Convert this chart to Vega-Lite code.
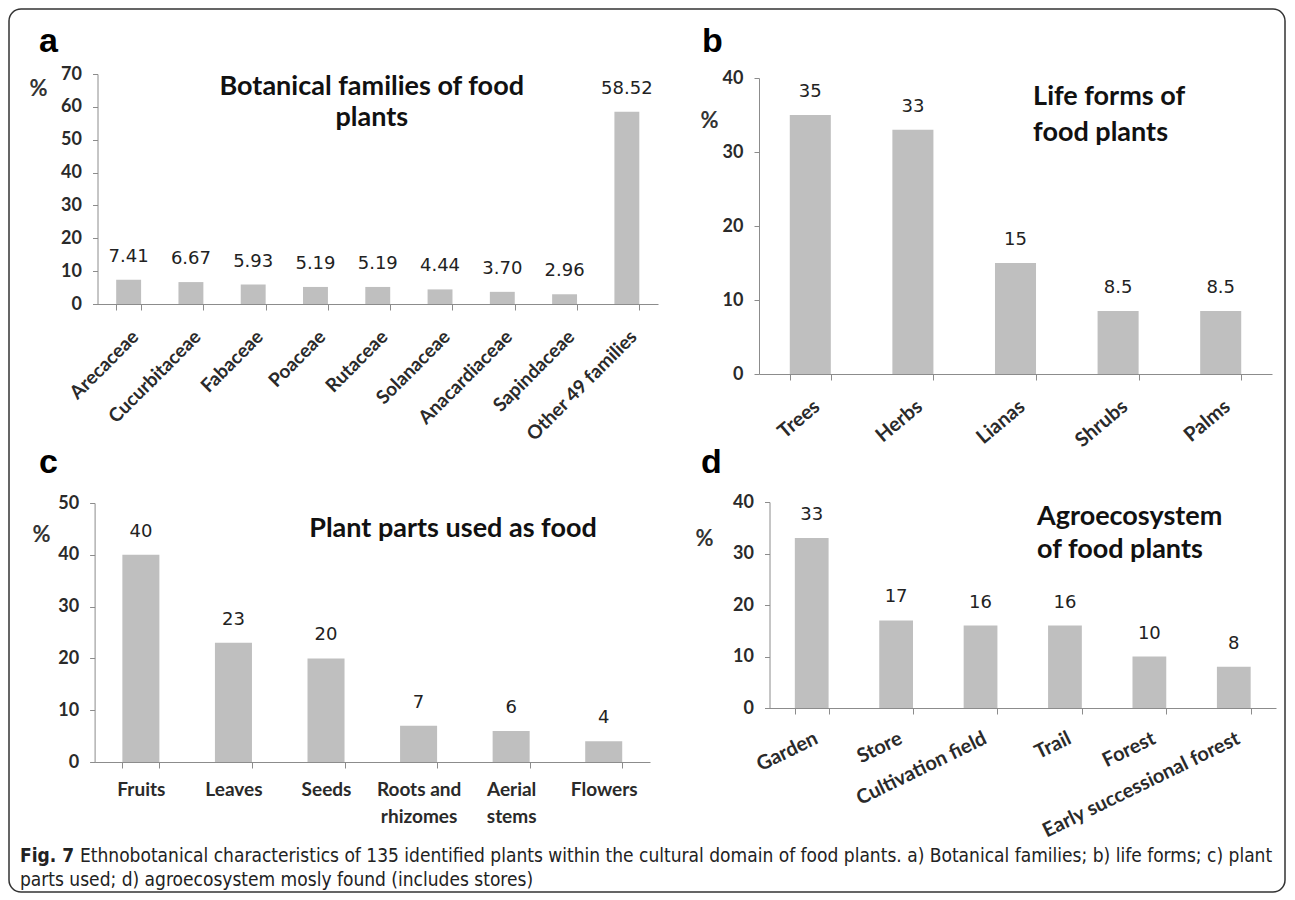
{
  "$schema": "https://vega.github.io/schema/vega-lite/v6.json",
  "width": 1276,
  "height": 883,
  "autosize": {"type": "none"},
  "padding": {"left": 9, "top": 9, "right": 10, "bottom": 8},
  "background": "white",
  "config": {
    "view": {"stroke": "#333333", "strokeWidth": 1.5, "cornerRadius": 12, "fill": "white"},
    "font": "Lato",
    "axis": {
      "grid": false,
      "domainColor": "#8c8c8c",
      "tickColor": "#8c8c8c",
      "labelColor": "#2a2a2a",
      "labelFont": "Lato",
      "titleFont": "Lato",
      "titleColor": "#333333",
      "zindex": 1,
      "labelOverlap": false,
      "labelFlush": false,
      "labelLimit": 400
    }
  },
  "datasets": {
    "families": [
      {"category": "Arecaceae", "value": 7.41},
      {"category": "Cucurbitaceae", "value": 6.67},
      {"category": "Fabaceae", "value": 5.93},
      {"category": "Poaceae", "value": 5.19},
      {"category": "Rutaceae", "value": 5.19},
      {"category": "Solanaceae", "value": 4.44},
      {"category": "Anacardiaceae", "value": 3.70},
      {"category": "Sapindaceae", "value": 2.96},
      {"category": "Other 49 families", "value": 58.52}
    ],
    "lifeforms": [
      {"category": "Trees", "value": 35},
      {"category": "Herbs", "value": 33},
      {"category": "Lianas", "value": 15},
      {"category": "Shrubs", "value": 8.5},
      {"category": "Palms", "value": 8.5}
    ],
    "parts": [
      {"category": "Fruits", "value": 40},
      {"category": "Leaves", "value": 23},
      {"category": "Seeds", "value": 20},
      {"category": "Roots and rhizomes", "value": 7},
      {"category": "Aerial stems", "value": 6},
      {"category": "Flowers", "value": 4}
    ],
    "agro": [
      {"category": "Garden", "value": 33},
      {"category": "Store", "value": 17},
      {"category": "Cultivation field", "value": 16},
      {"category": "Trail", "value": 16},
      {"category": "Forest", "value": 10},
      {"category": "Early successional forest", "value": 8}
    ]
  },
  "resolve": {
    "scale": {"x": "independent", "y": "independent"},
    "axis": {"x": "independent", "y": "independent"}
  },
  "layer": [
    {
      "data": {"name": "families"},
      "layer": [
        {
          "mark": {"type": "bar", "color": "#bfbfbf"},
          "encoding": {
            "x": {
              "field": "category", "type": "nominal",
              "scale": {"domain": ["Arecaceae", "Cucurbitaceae", "Fabaceae", "Poaceae", "Rutaceae", "Solanaceae", "Anacardiaceae", "Sapindaceae", "Other 49 families"], "range": [88.5, 649], "paddingInner": 0.6, "paddingOuter": 0.3},
              "axis": {"orient": "bottom", "offset": -588, "title": null, "labelAngle": -45, "tickBand": "extent", "tickSize": 6, "labelFontSize": 19, "labelFontWeight": "bold", "labelPadding": 17}
            },
            "y": {
              "field": "value", "type": "quantitative",
              "scale": {"domain": [0, 70], "range": [295, 65], "nice": false},
              "axis": {"orient": "left", "offset": -88.5, "values": [0, 10, 20, 30, 40, 50, 60, 70], "title": "%", "titleAngle": 0, "titleX": -59.5, "titleY": 79, "titleAlign": "center", "titleBaseline": "middle", "titleFontSize": 22, "titleFontWeight": "bold", "labelFontSize": 18, "labelFontWeight": "bold", "tickSize": 5, "labelPadding": 11}
            }
          }
        },
        {
          "mark": {"type": "text", "dy": -18, "baseline": "alphabetic", "fontSize": 18, "font": "DejaVu Sans", "color": "#222222"},
          "encoding": {
            "x": {"field": "category", "type": "nominal"},
            "y": {"field": "value", "type": "quantitative"},
            "text": {"field": "value", "type": "quantitative", "format": ".2f"}
          }
        },
        {
          "data": {"values": [{}]},
          "mark": {"type": "text", "text": ["Botanical families of food", "plants"], "align": "center", "baseline": "alphabetic", "dx": -6, "fontSize": 27, "fontWeight": "bold", "lineHeight": 31, "color": "#111111"},
          "encoding": {"x": {"datum": "Rutaceae"}, "y": {"datum": 63.6}}
        },
        {
          "data": {"values": [{}]},
          "mark": {"type": "text", "text": "a", "align": "left", "baseline": "alphabetic", "dx": -89.7, "fontSize": 34, "fontWeight": "bold", "font": "Liberation Sans", "color": "#000000"},
          "encoding": {"x": {"datum": "Arecaceae"}, "y": {"datum": 76.7}}
        }
      ]
    },
    {
      "data": {"name": "lifeforms"},
      "layer": [
        {
          "mark": {"type": "bar", "color": "#bfbfbf"},
          "encoding": {
            "x": {
              "field": "category", "type": "nominal",
              "scale": {"domain": ["Trees", "Herbs", "Lianas", "Shrubs", "Palms"], "range": [750, 1263], "paddingInner": 0.6, "paddingOuter": 0.3},
              "axis": {"orient": "bottom", "offset": -518, "title": null, "labelAngle": -40, "tickBand": "extent", "tickSize": 6, "labelFontSize": 20, "labelFontWeight": "bold", "labelPadding": 16}
            },
            "y": {
              "field": "value", "type": "quantitative",
              "scale": {"domain": [0, 40], "range": [365, 69], "nice": false},
              "axis": {"orient": "left", "offset": -750, "values": [0, 10, 20, 30, 40], "title": "%", "titleAngle": 0, "titleX": -50, "titleY": 111, "titleAlign": "center", "titleBaseline": "middle", "titleFontSize": 22, "titleFontWeight": "bold", "labelFontSize": 18, "labelFontWeight": "bold", "tickSize": 5, "labelPadding": 11}
            }
          }
        },
        {
          "mark": {"type": "text", "dy": -18, "baseline": "alphabetic", "fontSize": 18, "font": "DejaVu Sans", "color": "#222222"},
          "encoding": {
            "x": {"field": "category", "type": "nominal"},
            "y": {"field": "value", "type": "quantitative"},
            "text": {"field": "value", "type": "quantitative"}
          }
        },
        {
          "data": {"values": [{}]},
          "mark": {"type": "text", "text": ["Life forms of", "food plants"], "align": "left", "baseline": "alphabetic", "dx": -85, "fontSize": 27, "fontWeight": "bold", "lineHeight": 36, "color": "#111111"},
          "encoding": {"x": {"datum": "Shrubs"}, "y": {"datum": 36.35}}
        },
        {
          "data": {"values": [{}]},
          "mark": {"type": "text", "text": "b", "align": "left", "baseline": "alphabetic", "dx": -108.3, "fontSize": 34, "fontWeight": "bold", "font": "Liberation Sans", "color": "#000000"},
          "encoding": {"x": {"datum": "Trees"}, "y": {"datum": 43.5}}
        }
      ]
    },
    {
      "data": {"name": "parts"},
      "layer": [
        {
          "mark": {"type": "bar", "color": "#bfbfbf"},
          "encoding": {
            "x": {
              "field": "category", "type": "nominal",
              "scale": {"domain": ["Fruits", "Leaves", "Seeds", "Roots and rhizomes", "Aerial stems", "Flowers"], "range": [85.6, 641], "paddingInner": 0.6, "paddingOuter": 0.3},
              "axis": {"orient": "bottom", "offset": -130, "title": null, "labelAngle": 0, "tickBand": "extent", "tickSize": 6, "labelFontSize": 19, "labelFontWeight": "bold", "labelPadding": 12, "labelLineHeight": 27, "labelExpr": "datum.label == 'Roots and rhizomes' ? ['Roots and', 'rhizomes'] : datum.label == 'Aerial stems' ? ['Aerial', 'stems'] : datum.label"}
            },
            "y": {
              "field": "value", "type": "quantitative",
              "scale": {"domain": [0, 50], "range": [753, 494], "nice": false},
              "axis": {"orient": "left", "offset": -85.6, "values": [0, 10, 20, 30, 40, 50], "title": "%", "titleAngle": 0, "titleX": -53.6, "titleY": 525, "titleAlign": "center", "titleBaseline": "middle", "titleFontSize": 22, "titleFontWeight": "bold", "labelFontSize": 18, "labelFontWeight": "bold", "tickSize": 5, "labelPadding": 11}
            }
          }
        },
        {
          "mark": {"type": "text", "dy": -18, "baseline": "alphabetic", "fontSize": 18, "font": "DejaVu Sans", "color": "#222222"},
          "encoding": {
            "x": {"field": "category", "type": "nominal"},
            "y": {"field": "value", "type": "quantitative"},
            "text": {"field": "value", "type": "quantitative"}
          }
        },
        {
          "data": {"values": [{}]},
          "mark": {"type": "text", "text": "Plant parts used as food", "align": "center", "baseline": "alphabetic", "dx": 34.4, "fontSize": 27, "fontWeight": "bold", "color": "#111111"},
          "encoding": {"x": {"datum": "Roots and rhizomes"}, "y": {"datum": 43.4}}
        },
        {
          "data": {"values": [{}]},
          "mark": {"type": "text", "text": "c", "align": "left", "baseline": "alphabetic", "dx": -101.9, "fontSize": 34, "fontWeight": "bold", "font": "Liberation Sans", "color": "#000000"},
          "encoding": {"x": {"datum": "Fruits"}, "y": {"datum": 55.8}}
        },
        {
          "data": {"values": [{}]},
          "mark": {"type": "text", "text": "Fig. 7", "align": "left", "baseline": "alphabetic", "dx": -120.9, "fontSize": 19, "fontWeight": "bold", "font": "DejaVu Sans Condensed, Open Sans", "color": "#222222"},
          "encoding": {"x": {"datum": "Fruits"}, "y": {"datum": -19.31}}
        },
        {
          "data": {"values": [{}]},
          "mark": {"type": "text", "text": "Ethnobotanical characteristics of 135 identified plants within the cultural domain of food plants. a) Botanical families; b) life forms; c) plant", "align": "left", "baseline": "alphabetic", "dx": -60.9, "fontSize": 19, "font": "DejaVu Sans Condensed, Open Sans", "color": "#222222"},
          "encoding": {"x": {"datum": "Fruits"}, "y": {"datum": -19.31}}
        },
        {
          "data": {"values": [{}]},
          "mark": {"type": "text", "text": "parts used; d) agroecosystem mosly found (includes stores)", "align": "left", "baseline": "alphabetic", "dx": -120.9, "fontSize": 19, "font": "DejaVu Sans Condensed, Open Sans", "color": "#222222"},
          "encoding": {"x": {"datum": "Fruits"}, "y": {"datum": -23.94}}
        }
      ]
    },
    {
      "data": {"name": "agro"},
      "layer": [
        {
          "mark": {"type": "bar", "color": "#bfbfbf"},
          "encoding": {
            "x": {
              "field": "category", "type": "nominal",
              "scale": {"domain": ["Garden", "Store", "Cultivation field", "Trail", "Forest", "Early successional forest"], "range": [760.5, 1267], "paddingInner": 0.6, "paddingOuter": 0.3},
              "axis": {"orient": "bottom", "offset": -184, "title": null, "labelAngle": -26, "tickBand": "extent", "tickSize": 6, "labelFontSize": 20, "labelFontWeight": "bold", "labelPadding": 14}
            },
            "y": {
              "field": "value", "type": "quantitative",
              "scale": {"domain": [0, 40], "range": [699, 493], "nice": false},
              "axis": {"orient": "left", "offset": -760.5, "values": [0, 10, 20, 30, 40], "title": "%", "titleAngle": 0, "titleX": -65.5, "titleY": 529, "titleAlign": "center", "titleBaseline": "middle", "titleFontSize": 22, "titleFontWeight": "bold", "labelFontSize": 18, "labelFontWeight": "bold", "tickSize": 5, "labelPadding": 11}
            }
          }
        },
        {
          "mark": {"type": "text", "dy": -18, "baseline": "alphabetic", "fontSize": 18, "font": "DejaVu Sans", "color": "#222222"},
          "encoding": {
            "x": {"field": "category", "type": "nominal"},
            "y": {"field": "value", "type": "quantitative"},
            "text": {"field": "value", "type": "quantitative"}
          }
        },
        {
          "data": {"values": [{}]},
          "mark": {"type": "text", "text": ["Agroecosystem", "of food plants"], "align": "left", "baseline": "alphabetic", "dx": -112.4, "fontSize": 27, "fontWeight": "bold", "lineHeight": 33, "color": "#111111"},
          "encoding": {"x": {"datum": "Forest"}, "y": {"datum": 35.5}}
        },
        {
          "data": {"values": [{}]},
          "mark": {"type": "text", "text": "d", "align": "left", "baseline": "alphabetic", "dx": -110.7, "fontSize": 34, "fontWeight": "bold", "font": "Liberation Sans", "color": "#000000"},
          "encoding": {"x": {"datum": "Garden"}, "y": {"datum": 45.6}}
        }
      ]
    }
  ]
}
